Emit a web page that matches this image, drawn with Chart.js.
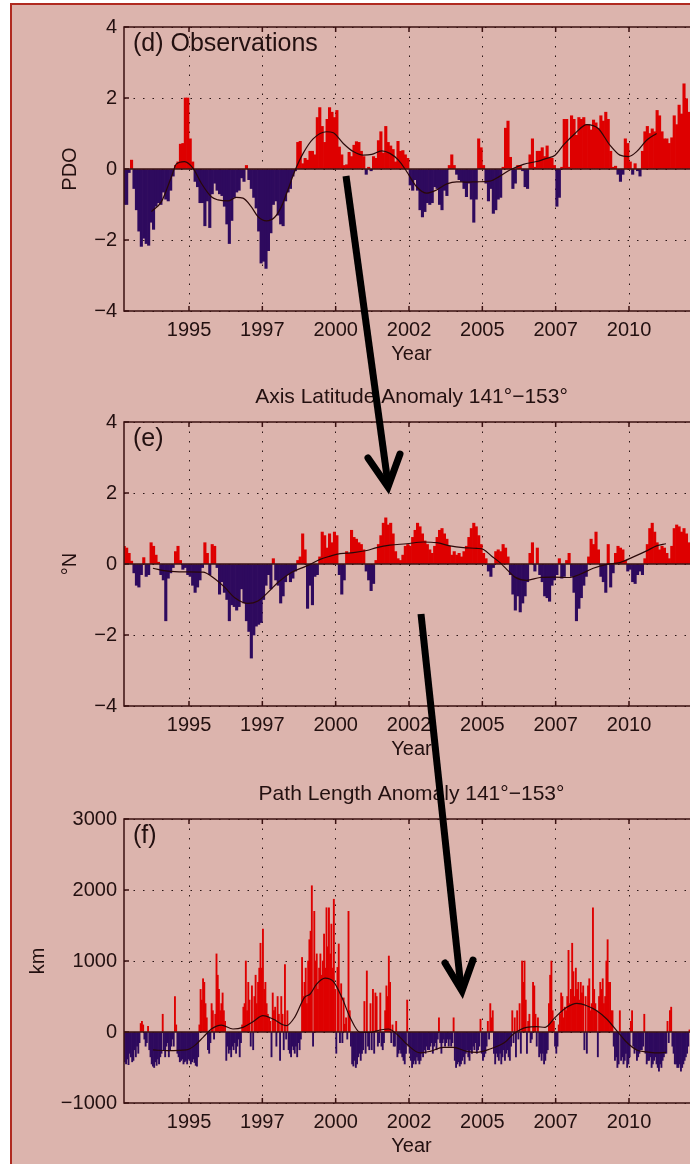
<!DOCTYPE html>
<html>
<head>
<meta charset="utf-8">
<script src="https://cdn.jsdelivr.net/npm/chart.js@4.4.1/dist/chart.umd.min.js"></script>
<style>
    html, body { margin: 0; padding: 0; width: 690px; height: 1164px; overflow: hidden; background: #fff; }
    #fig { position: absolute; left: 10px; top: 3px; width: 760px; height: 1240px; background: #dcb4ad; border: 2px solid #b02a20; }
    .panel { position: absolute; left: 0; }
    #arrows { position: absolute; left: 0; top: 0; }
</style>
</head>
<body>
<div id="fig"></div>
<canvas id="chartD" class="panel" width="700" height="396" style="top:-23px"></canvas>
<canvas id="chartE" class="panel" width="700" height="396" style="top:372px"></canvas>
<canvas id="chartF" class="panel" width="700" height="396" style="top:769px"></canvas>
<svg id="arrows" width="690" height="1164">
    <g stroke="#000" stroke-width="7" fill="none" stroke-linejoin="miter" stroke-linecap="round">
        <line x1="346" y1="176" x2="388" y2="484" stroke-linecap="butt"/>
        <polyline points="368,458 388,487 400,454"/>
        <line x1="421" y1="614" x2="461" y2="988" stroke-linecap="butt"/>
        <polyline points="445,963 462,991 473,960"/>
    </g>
</svg>
<script>
// time axis: first value is Oct 1992
var startYear = 1992 + 9 / 12;
var xMin = 1992.784;
var xMax = 2012.386;

var yearTicks = [1995, 1997.5, 2000, 2002.5, 2005, 2007.5, 2010];
var yearLabels = ['1995', '1997', '2000', '2002', '2005', '2007', '2010'];
var pdoTicks = [-4, -2, 0, 2, 4];
var latTicks = [-4, -2, 0, 2, 4];
var kmTicks = [-1000, 0, 1000, 2000, 3000];

// (d) PDO, monthly
var pdoValues = [
    -1.0, -1.0, -0.1, 0.25, -0.55, -1.15, -1.75, -2.18, -1.95, -2.1,
    -2.15, -1.5, -1.7, -1.05, -0.95, -1.0, -0.65, -0.85, -0.9, -0.6,
    -0.2, 0.1, 0.2, 0.7, 0.72, 2.0, 2.0, 0.85, 0.2, -0.35,
    -0.5, -0.95, -0.95, -1.6, -0.9, -1.65, -0.7, -0.4, -0.6, -0.7,
    -0.75, -1.05, -1.55, -2.1, -1.45, -0.8, -0.65, -0.6, -0.25, -0.35,
    0.1, -0.3, -0.55, -0.8, -1.1, -1.75, -2.65, -2.6, -2.8, -2.3,
    -1.8, -1.0, -0.9, -1.3, -1.55, -1.6, -0.9, -0.65, -0.55, -0.2,
    -0.05, 0.75, 0.78, 0.15, 0.3, 0.25, 0.5, 0.5, 0.4, 1.45,
    1.73, 1.2, 0.75, 1.4, 1.73, 1.6, 1.45, 1.65, 0.62, 0.4,
    0.1, 0.12, 0.47, 0.35, 0.67, 0.77, 0.75, 0.5, 0.35, -0.15,
    0.05, -0.05, 0.35, 0.3, 0.8, 1.05, 0.45, 1.2, 0.75, 0.65,
    0.55, 0.2, 0.78, 0.5, 0.52, 0.4, 0.3, -0.45, -0.6, -0.3,
    -0.6, -1.15, -1.35, -1.2, -0.95, -1.0, -0.95, -0.5, -0.55, -1.0,
    -1.15, -0.6, -0.75, 0.1, 0.4, 0.1, -0.15, -0.3, -0.35, -0.55,
    -0.78, -0.4, -0.85, -1.5, -0.85, 0.85, 0.6, 0.1, -0.4, -0.9,
    -0.55, -1.25, -1.15, -0.85, -0.8, 0.05, 1.15, 1.35, 0.33, -0.55,
    -0.4, 0.1, 0.1, -0.05, -0.5, -0.55, 0.4, 0.85, 0.05, 0.5,
    0.5, 0.6, 0.35, 0.65, 0.3, 0.3, 0.1, -1.05, -0.8, 0.05,
    1.4, 1.4, 0.05, 1.5, 1.4, 0.95, 1.45, 1.4, 1.45, 1.25,
    1.25, 1.1, 1.38, 1.3, 1.15, 1.5, 1.35, 1.6, 1.4, 0.5,
    0.05, 0.08, -0.15, -0.35, -0.15, 0.85, 0.72, 0.2, -0.15, 0.15,
    -0.05, -0.2, 0.5, 1.05, 1.2, 1.0, 1.13, 1.05, 1.65, 1.5,
    1.05, 0.85, 0.85, 0.72, 0.88, 1.5, 1.25, 1.8, 1.55, 2.4,
    1.98, 1.6
];
var pdoSmoothX = [1993.72, 1994.06, 1994.4, 1994.57, 1994.85, 1995.14, 1995.42, 1995.76, 1995.99, 1996.33,
    1996.61, 1996.84, 1997.12, 1997.35, 1997.64, 1997.92, 1998.15, 1998.37, 1998.6, 1998.89,
    1999.23, 1999.69, 1999.92, 2000.26, 2000.6, 2000.94, 2001.23, 2001.57, 2001.85, 2002.14,
    2002.42, 2002.76, 2003.1, 2003.44, 2003.79, 2004.13, 2004.47, 2004.81, 2005.26, 2005.6,
    2005.94, 2006.4, 2006.85, 2007.19, 2007.48, 2007.76, 2008.16, 2008.56, 2008.95, 2009.35,
    2009.69, 2009.98, 2010.26, 2010.6, 2010.94];
var pdoSmoothY = [-1.2, -0.92, -0.22, 0.14, 0.21, 0.02, -0.4, -0.78, -0.87, -0.9,
    -0.8, -0.82, -1.06, -1.34, -1.46, -1.36, -1.06, -0.59, -0.07, 0.44,
    0.85, 1.05, 1.02, 0.72, 0.49, 0.39, 0.41, 0.51, 0.44, 0.25,
    -0.07, -0.5, -0.68, -0.59, -0.42, -0.36, -0.37, -0.36, -0.34, -0.2,
    -0.03, 0.13, 0.21, 0.3, 0.39, 0.67, 1.0, 1.25, 1.14, 0.67,
    0.39, 0.35, 0.49, 0.81, 1.0];

// (e) axis latitude anomaly, monthly
var latValues = [
    0.5, 0.45, 0.3, 0.08, -0.25, -0.6, -0.65, -0.3, 0.18, -0.35,
    -0.3, 0.6, 0.5, 0.25, 0.05, -0.3, -0.45, -1.6, -0.4, -0.25,
    -0.1, 0.35, 0.5, 0.1, -0.15, -0.1, -0.3, -0.35, -0.6, -0.8,
    -0.65, -0.45, -0.1, 0.6, 0.3, -0.3, 0.55, 0.5, -0.1, -0.85,
    -0.5, -0.8, -1.0, -1.6, -1.15, -1.2, -1.3, -1.2, -0.7, -1.1,
    -1.6, -1.9, -2.65, -2.0, -1.75, -1.7, -1.65, -1.0, -0.6, -0.3,
    -0.7, 0.15, -0.45, -0.6, -1.1, -0.9, -0.5, -0.3, -0.5, -0.4,
    -0.2, 0.1, 0.2, 0.85, 0.4, -1.25, -0.6, -1.15, -0.35, -0.3,
    0.2, 0.9, 0.8, 0.45, 0.85, 0.6, 0.9, 0.8, -0.3, -0.85,
    -0.45, 0.35, 0.3, 0.95, 0.75, 0.7, 0.6, 0.55, 0.4, -0.2,
    -0.45, -0.75, -0.55, 0.1, 0.55, 0.8, 1.15, 1.3, 1.1, 1.15,
    0.85, 0.35, 0.15, 0.1, 0.25, 0.5, 0.55, 0.5, 0.75, 0.95,
    1.15, 1.05, 0.85, 0.65, 0.55, 0.4, 0.3, 0.5, 0.75, 0.95,
    1.0, 0.85, 0.7, 0.5, 0.25, 0.35, 0.25, 0.3, 0.2, 0.35,
    0.5, 0.75, 1.0, 1.15, 1.05, 0.8, 0.55, 0.3, 0.15, -0.2,
    -0.35, -0.1, 0.35, 0.4, 0.35, 0.55, 0.45, 0.2, -0.3, -0.85,
    -1.3, -0.9, -1.35, -1.1, -0.9, -0.5, 0.3, 0.6, -0.2, 0.45,
    -0.3, -0.5, -0.9, -0.95, -1.05, -0.6, -0.45, -0.3, 0.15, -0.4,
    -0.35, 0.1, 0.3, -0.35, -0.8, -1.6, -1.25, -0.95, -0.6, -0.35,
    0.2, 0.7, 0.55, 0.9, 0.4, -0.35, -0.5, -0.8, 0.55, -0.65,
    -0.25, 0.3, 0.5, 0.45, 0.4, 0.1, -0.2, -0.15, -0.5, -0.55,
    -0.3, -0.2, -0.3, 0.15, 0.55, 1.0, 1.15, 0.9, 0.6, 0.4,
    0.5, 0.45, 0.3, 0.15, 0.5, 1.0, 1.1, 1.05, 0.9, 1.0,
    0.85, 0.6
];
var latSmoothX = [1993.77, 1994.28, 1994.85, 1995.48, 1995.82, 1996.22, 1996.56, 1997.01, 1997.35, 1997.69,
    1998.03, 1998.49, 1998.94, 1999.13, 1999.47, 1999.81, 2000.15, 2000.6, 2001.06, 2001.4,
    2001.85, 2002.42, 2002.99, 2003.44, 2003.9, 2004.35, 2004.81, 2005.04, 2005.32, 2005.6,
    2005.83, 2006.11, 2006.51, 2006.97, 2007.42, 2007.99, 2008.33, 2008.78, 2009.24, 2009.69,
    2010.15, 2010.6, 2010.94, 2011.26];
var latSmoothY = [-0.12, -0.2, -0.22, -0.23, -0.38, -0.66, -0.95, -1.11, -1.04, -0.8,
    -0.52, -0.24, -0.08, -0.01, 0.13, 0.22, 0.29, 0.32, 0.38, 0.46,
    0.53, 0.57, 0.62, 0.6, 0.51, 0.46, 0.44, 0.41, 0.22, 0.04,
    -0.15, -0.37, -0.46, -0.38, -0.37, -0.38, -0.29, -0.12, -0.01, 0.04,
    0.2, 0.37, 0.51, 0.57];

// (f) path length anomaly, two values per month
var pathValues = [
    -300, -420, -450, -380, -460, -300, -350, -420, -400, -250,
    -350, -200, -300, -150, 120, 150, 100, -100, -200, -150,
    80, -250, -350, -450, -480, -500, -420, -470, -380, -450,
    -350, -300, 250, -250, -350, -200, -150, -350, -250, -200,
    -100, -200, 500, 100, -300, -350, -420, -400, -380, -450,
    -420, -400, -450, -380, -400, -450, -420, -380, -430, -470,
    -480, -350, 100, 600, 450, 750, 700, 400, 200, -250,
    -300, -150, 400, 300, -100, 250, 1100, 800, 600, 300,
    400, 550, 300, 150, -400, -200, -300, -250, -350, -200,
    -250, -150, -300, -200, -100, -350, -150, 100, 350, 400,
    1000, 300, 700, 450, -200, 650, -250, 500, 800, 400,
    700, 900, 1250, 900, 1450, 600, 700, 400, 250, 200,
    150, -350, 550, 300, 350, -200, 500, 250, -400, 500,
    250, -250, 950, -100, 300, -250, -300, -350, -200, -250,
    -300, -200, -350, -150, -250, -100, 1050, 500, 700, 900,
    400, 1000, 1300, 1420, 2060, -200, 1700, 1000, 1100, 600,
    900, 1100, 800, 1000, 1380, 900, 1750, 1200, 1750, 1100,
    1520, 900, 1870, 600, -300, 910, 1240, -150, 680, -150,
    480, 110, 200, -100, 1700, 300, -200, -450, -480, -400,
    -500, -450, -350, -300, -400, -300, -250, 430, -300, 860,
    -200, -250, 400, -250, 600, -300, 550, 500, -200, -150,
    550, -200, -250, -150, 300, 650, 500, 1070, 700, -150,
    100, -200, -200, 150, -350, -300, -250, -300, -350, -400,
    -450, -300, 450, -200, -300, -400, -500, -450, -400, -450,
    -350, -400, -450, -400, -300, -350, -250, -300, -200, -250,
    -250, -200, -150, -300, -200, -150, -250, -100, 200, -150,
    -300, -150, -100, -200, -150, -100, -200, -100, -200, -150,
    200, -400, -500, -450, -420, -480, -450, -400, -350, -450,
    -300, -250, -350, -400, -250, -300, -200, -250, -150, -300,
    -250, -200, 180, -300, -400, -350, -300, -200, 150, -100,
    400, 200, 300, -300, -450, -300, -350, -400, -300, -450,
    -350, -250, -400, -300, -250, -350, -400, -200, 300, -150,
    200, -350, 300, -100, 400, -300, 1000, 700, 1000, 450,
    -300, 150, 250, -150, -100, 700, 650, 250, -200, 200,
    -350, -300, -400, -300, -450, -400, -300, -250, 400, 800,
    1000, 300, 150, -200, -300, -200, 100, 250, 550, 500,
    200, 350, 300, 500, 1150, 400, 600, 1250, 850, 500,
    900, 600, 700, 450, 700, 550, 650, -250, 500, -300,
    650, 750, 300, 400, 1750, 600, 400, 300, -350, 500,
    700, 600, 750, 400, 500, 1000, 1300, 700, 700, 300,
    300, -200, -400, -350, -500, -450, 300, -400, -350, -450,
    -400, -300, -500, -450, -350, 150, 300, -200, -300, -250,
    -400, -350, -300, -250, -250, -200, 250, -300, -450, -400,
    -400, -350, -500, -450, -400, -350, -450, -500, -550, -450,
    -500, -400, -350, -300, -300, 150, -150, 300, 350, -200,
    -300, -450, -450, -500, -500, -450, -550, -500, -450, -400,
    -350, -300, -200, 30
];
var pathSmoothX = [1993.77, 1994.28, 1994.91, 1995.19, 1995.48, 1995.76, 1996.1, 1996.5, 1996.84, 1997.18,
    1997.52, 1997.86, 1998.32, 1998.6, 1998.94, 1999.13, 1999.35, 1999.64, 1999.92, 2000.21,
    2000.49, 2000.83, 2001.17, 2001.51, 2001.8, 2002.08, 2002.42, 2002.88, 2003.22, 2003.67,
    2004.01, 2004.47, 2004.81, 2005.26, 2005.77, 2006.06, 2006.51, 2006.85, 2007.14, 2007.48,
    2007.88, 2008.22, 2008.56, 2008.9, 2009.24, 2009.58, 2009.92, 2010.26, 2010.6, 2010.94,
    2011.26];
var pathSmoothY = [-253, -263, -253, -192, -75, 42, 98, 42, 66, 145,
    230, 183, 89, 206, 488, 535, 675, 760, 713, 488,
    206, -5, -5, 28, 42, -28, -169, -295, -272, -216,
    -216, -272, -286, -239, -145, -28, 66, 75, 66, 206,
    347, 403, 370, 300, 183, 19, -145, -253, -281, -295,
    -286];

var posColor = '#de0000';
var negColor = '#2e0a5e';
var lineColor = '#2a0808';
var axisColor = '#3a1010';
var textColor = '#231010';
var gridColor = '#2a1414';
var fontFamily = '"Liberation Sans", Arial, sans-serif';

Chart.defaults.font.family = fontFamily;

var framePlugin = {
    id: 'frame',
    afterDatasetDraw: function (chart, args) {
        if (args.meta.type !== 'bar') return;
        var ctx = chart.ctx, a = chart.chartArea;
        var y0 = chart.scales.y.getPixelForValue(0);
        ctx.save();
        ctx.strokeStyle = axisColor;
        ctx.lineWidth = 1.5;
        ctx.beginPath();
        ctx.moveTo(a.left, y0);
        ctx.lineTo(a.right, y0);
        ctx.stroke();
        ctx.restore();
    },
    afterDraw: function (chart, args, opts) {
        var ctx = chart.ctx, a = chart.chartArea;
        var x = chart.scales.x, y = chart.scales.y;
        ctx.save();
        ctx.strokeStyle = axisColor;
        ctx.lineWidth = 1.5;
        ctx.strokeRect(a.left, a.top, a.right - a.left, a.bottom - a.top);
        ctx.beginPath();
        x.ticks.forEach(function (t) {
            var px = x.getPixelForValue(t.value);
            ctx.moveTo(px, a.bottom); ctx.lineTo(px, a.bottom - 5);
            ctx.moveTo(px, a.top); ctx.lineTo(px, a.top + 5);
        });
        y.ticks.forEach(function (t) {
            var py = y.getPixelForValue(t.value);
            ctx.moveTo(a.left, py); ctx.lineTo(a.left + 5, py);
        });
        ctx.stroke();

        ctx.fillStyle = textColor;
        ctx.textBaseline = 'middle';
        ctx.textAlign = 'left';
        ctx.font = '25px ' + fontFamily;
        ctx.fillText(opts.label, a.left + 9, a.top + 17);
        if (opts.title) {
            ctx.textAlign = 'center';
            ctx.font = '21px ' + fontFamily;
            ctx.fillText(opts.title, (a.left + a.right) / 2, a.top - 25);
        }
        ctx.restore();
    }
};

function minusLabel(v) {
    return v < 0 ? '\u2212' + Math.abs(v) : String(v);
}

function makePanel(canvasId, cfg) {
    var step = 1 / (12 * cfg.perMonth);
    var bars = cfg.values.map(function (v, i) {
        return { x: startYear + (i + 0.5) * step, y: v };
    });
    var smooth = cfg.smoothX.map(function (xv, i) {
        return { x: xv, y: cfg.smoothY[i] };
    });
    var tickFont = { family: fontFamily, size: 20 };

    return new Chart(document.getElementById(canvasId), {
        type: 'bar',
        data: {
            datasets: [{
                type: 'line',
                data: smooth,
                borderColor: lineColor,
                borderWidth: 1.2,
                pointRadius: 0,
                cubicInterpolationMode: 'monotone',
                order: 0
            }, {
                data: bars,
                backgroundColor: bars.map(function (b) { return b.y < 0 ? negColor : posColor; }),
                borderWidth: 0,
                barPercentage: 1,
                categoryPercentage: 1,
                order: 1
            }]
        },
        options: {
            responsive: false,
            animation: false,
            layout: { padding: { top: 50, right: 1, left: 0, bottom: 0 } },
            plugins: {
                legend: { display: false },
                tooltip: { enabled: false },
                frame: { label: cfg.label, title: cfg.title }
            },
            scales: {
                x: {
                    type: 'linear',
                    min: xMin,
                    max: xMax,
                    offset: false,
                    afterBuildTicks: function (s) {
                        s.ticks = yearTicks.map(function (v) { return { value: v }; });
                    },
                    afterFit: function (s) { s.height = 62; },
                    ticks: {
                        callback: function (v, i) { return yearLabels[i]; },
                        font: tickFont,
                        color: textColor,
                        padding: 7,
                        maxRotation: 0,
                        autoSkip: false
                    },
                    grid: { color: gridColor, lineWidth: 1, drawTicks: false, offset: false },
                    border: { display: false, dash: [1.5, 8] },
                    title: { display: true, text: 'Year', font: tickFont, color: textColor, padding: { top: 0, bottom: 7 } }
                },
                y: {
                    min: cfg.yTicks[0],
                    max: cfg.yTicks[cfg.yTicks.length - 1],
                    afterBuildTicks: function (s) {
                        s.ticks = cfg.yTicks.map(function (v) { return { value: v }; });
                    },
                    afterFit: function (s) { s.width = 124; },
                    ticks: {
                        callback: function (v) { return minusLabel(v); },
                        font: tickFont,
                        color: textColor,
                        padding: 7
                    },
                    grid: { color: gridColor, lineWidth: 1, drawTicks: false },
                    border: { display: false, dash: [1.5, 8] },
                    title: { display: true, text: cfg.yTitle, font: tickFont, color: textColor, padding: { top: cfg.yTitlePad, bottom: 0 } }
                }
            }
        },
        plugins: [framePlugin]
    });
}

makePanel('chartD', {
    values: pdoValues, perMonth: 1, smoothX: pdoSmoothX, smoothY: pdoSmoothY,
    yTicks: pdoTicks, yTitle: 'PDO', yTitlePad: 58,
    label: '(d) Observations', title: ''
});
makePanel('chartE', {
    values: latValues, perMonth: 1, smoothX: latSmoothX, smoothY: latSmoothY,
    yTicks: latTicks, yTitle: '\u00b0N', yTitlePad: 58,
    label: '(e)', title: 'Axis Latitude Anomaly 141\u00b0\u2212153\u00b0'
});
makePanel('chartF', {
    values: pathValues, perMonth: 2, smoothX: pathSmoothX, smoothY: pathSmoothY,
    yTicks: kmTicks, yTitle: 'km', yTitlePad: 26,
    label: '(f)', title: 'Path Length Anomaly 141\u00b0\u2212153\u00b0'
});
</script>
</body>
</html>
